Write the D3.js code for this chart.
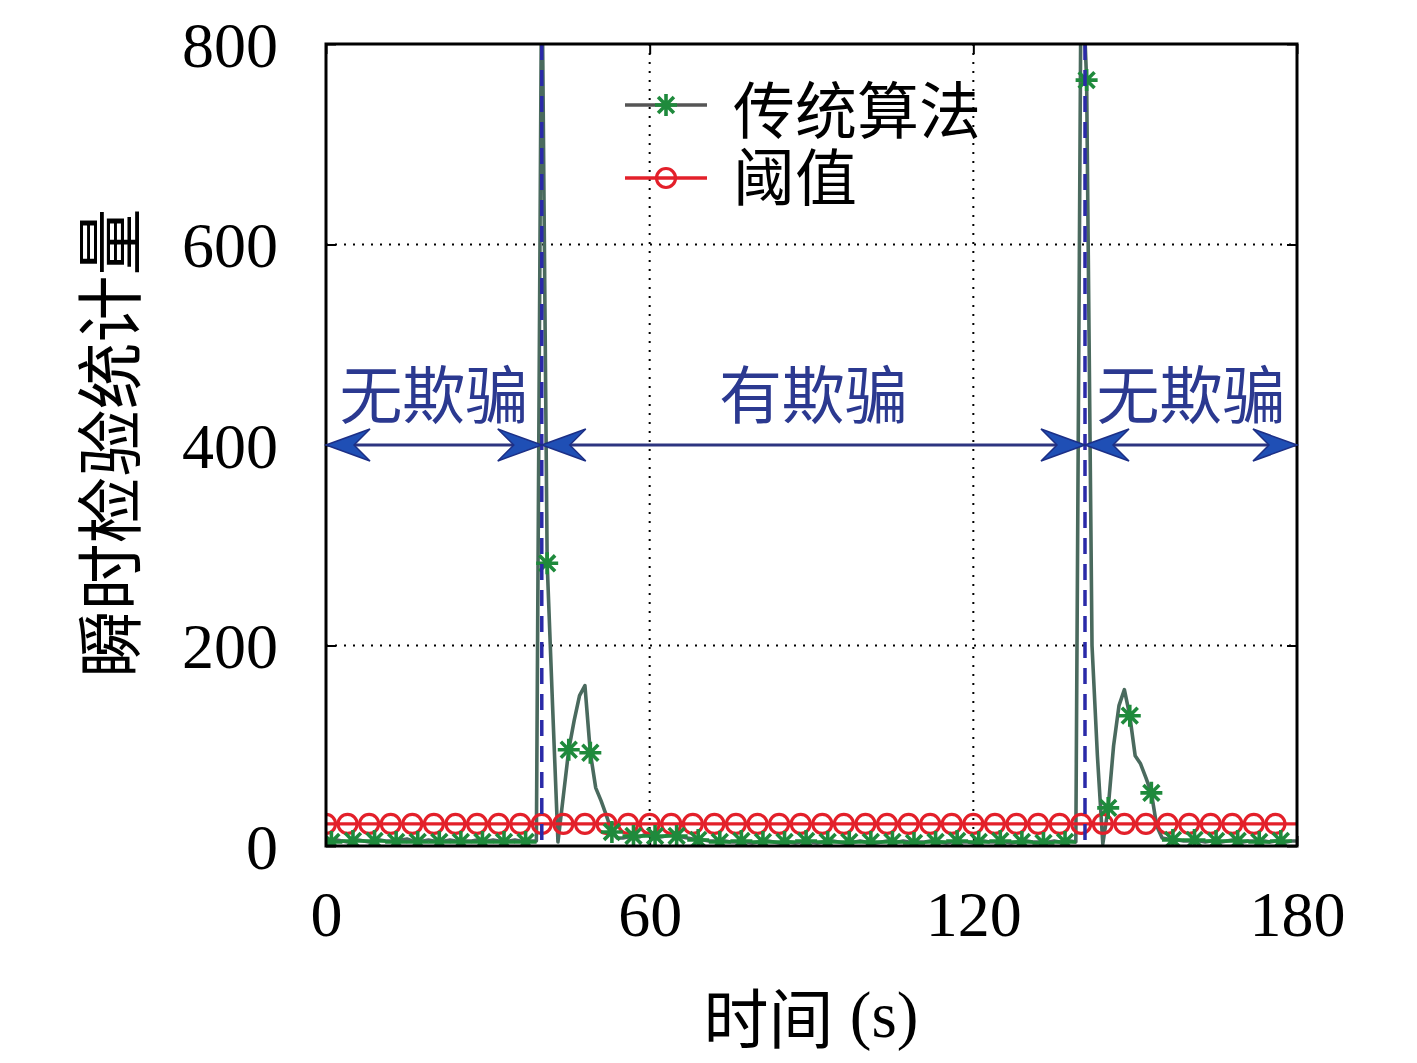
<!DOCTYPE html>
<html><head><meta charset="utf-8">
<script src="https://cdn.jsdelivr.net/npm/d3@7"></script>
<style>
body{margin:0;background:#fff;}
svg{display:block;}
</style>
</head><body>
<svg id="chart" width="1417" height="1063"></svg>
<script>
// ---------------- data ----------------
const xTicks = [0, 60, 120, 180];
const yTicks = [0, 200, 400, 600, 800];
const seriesNames = ["传统算法", "阈值"];
// traditional algorithm statistic, one value per second (t = 0..180)
const tradValues = [
  5,4,6,5,4,5,6,5,4,5, 6,5,5,4,6,7,5,4,5,6, 5,4,5,6,5,4,5,5,6,4, 5,6,5,4,5,6,5,4,5,5,
  900,282,140,4,50,96,125,150,160,93,58,45,30,14,8,
  8,9,10,9,11,12,10,9,10,11,
  10,9,8,7,6,6,5,5,4,5,
  4,4,5,4,3,4,4,5,4,3,
  4,4,3,4,5,4,3,4,4,5,
  4,3,4,4,5,4,4,3,4,5,
  4,4,5,4,3,4,4,5,4,4,
  3,4,5,4,4,3,4,5,4,4,
  5,4,3,4,4,5,4,4,3,4,
  5,4,4,5,4,
  900,764,200,90,2,38,100,140,156,130,90,82,68,53,20,
  8,7,6,6,5,5,6,5,4,5,
  5,4,5,6,5,4,5,5,4,5,
  4,5,5,4,5,5
];
const tradTimes = tradValues.map((v, i) => i);
const tradMarkerTimes = [1,5,9,13,17,21,25,29,33,37,41,45,49,53,57,61,65,69,73,77,81,85,89,93,97,101,105,109,113,117,121,125,129,133,137,141,145,149,153,157,161,165,169,173,177];
// threshold
const thresholdTimes = [0,4,8,12,16,20,24,28,32,36,40,44,48,52,56,60,64,68,72,76,80,84,88,92,96,100,104,108,112,116,120,124,128,132,136,140,144,148,152,156,160,164,168,172,176];
const thresholdValues = [22,22,22,22,22,22,22,22,22,22,22,22,22,22,22,22,22,22,22,22,22,22,22,22,22,22,22,22,22,22,22,22,22,22,22,22,22,22,22,22,22,22,22,22,22];
// spoofing boundaries and region labels
const boundaryTimes = [40, 140.7];
const regionStarts = [0, 40, 140.7];
const regionEnds = [40, 140.7, 180];
const regionLabels = ["无欺骗", "有欺骗", "无欺骗"];
const arrowLevel = 400;

// ---------------- layout ----------------
const svg = d3.select("#chart");
const L = 326, R = 1297, T = 44, B = 846;
const x = d3.scaleLinear().domain([0, 180]).range([L, R]);
const y = d3.scaleLinear().domain([0, 800]).range([B, T]);
const serif = "'Liberation Serif','DejaVu Serif',serif";
const cjk = "'Noto Sans CJK SC','Noto Sans CJK JP',sans-serif";

svg.append("rect").attr("width",1417).attr("height",1063).attr("fill","#fff");

svg.append("defs").append("clipPath").attr("id","clip")
  .append("rect").attr("x",L).attr("y",T).attr("width",R-L).attr("height",B-T);

// grid
const grid = svg.append("g").attr("stroke","#000").attr("stroke-width",2).attr("stroke-dasharray","2,7");
xTicks.filter(t => t>0 && t<180).forEach(t => grid.append("line").attr("x1",x(t)).attr("x2",x(t)).attr("y1",T).attr("y2",B));
yTicks.filter(t => t>0 && t<800).forEach(t => grid.append("line").attr("x1",L).attr("x2",R).attr("y1",y(t)).attr("y2",y(t)));

// axes with inward ticks
const axB = svg.append("g").attr("transform",`translate(0,${B})`).call(d3.axisBottom(x).tickValues(xTicks).tickSize(-10).tickPadding(42));
const axT = svg.append("g").attr("transform",`translate(0,${T})`).call(d3.axisTop(x).tickValues(xTicks).tickSize(-10).tickFormat(""));
const axL = svg.append("g").attr("transform",`translate(${L},0)`).call(d3.axisLeft(y).tickValues(yTicks).tickSize(-10).tickPadding(48));
const axR = svg.append("g").attr("transform",`translate(${R},0)`).call(d3.axisRight(y).tickValues(yTicks).tickSize(-10).tickFormat(""));
[axB,axT,axL,axR].forEach(a => {
  a.select(".domain").remove();
  a.selectAll(".tick line").attr("stroke","#000").attr("stroke-width",2);
  a.selectAll("text").attr("font-family",serif).attr("font-size",64).attr("fill","#000");
});
axB.selectAll("text").attr("dy","0.75em");
axL.selectAll("text").attr("dy","0.35em");

// threshold series
const thrData = thresholdTimes.map((t,i)=>({t, v: thresholdValues[i]}));
const line = d3.line().x(d=>x(d.t)).y(d=>y(d.v));
const plot = svg.append("g").attr("clip-path","url(#clip)");

// traditional series line
const tradData = tradTimes.map((t,i)=>({t, v: tradValues[i]}));
plot.append("path").datum(tradData).attr("d",line).attr("fill","none")
  .attr("stroke","#4a6a5e").attr("stroke-width",3.6).attr("stroke-linejoin","round");

// threshold line
plot.append("path").datum(thrData.concat([{t:180, v:thresholdValues[thresholdValues.length-1]}]))
  .attr("d",line).attr("fill","none").attr("stroke","#e3202a").attr("stroke-width",3.2);

// boundary dashed lines
boundaryTimes.forEach(t => {
  svg.append("line").attr("x1",x(t)).attr("x2",x(t)).attr("y1",T).attr("y2",B)
    .attr("stroke","#2a2aa8").attr("stroke-width",3.5).attr("stroke-dasharray","16,10");
});

// threshold markers
plot.selectAll("circle.thr").data(thrData).join("circle")
  .attr("cx",d=>x(d.t)).attr("cy",d=>y(d.v)).attr("r",9.5)
  .attr("fill","none").attr("stroke","#e3202a").attr("stroke-width",3.2);

// asterisk markers
function asterisk(g, cx, cy, s, color){
  const a = s, b = s*0.72;
  const p = `M${cx-a},${cy}L${cx+a},${cy}M${cx},${cy-a}L${cx},${cy+a}M${cx-b},${cy-b}L${cx+b},${cy+b}M${cx-b},${cy+b}L${cx+b},${cy-b}`;
  g.append("path").attr("d",p).attr("stroke",color).attr("stroke-width",3.6).attr("fill","none");
}
const mk = plot.append("g");
tradMarkerTimes.forEach(t => asterisk(mk, x(t), y(tradValues[tradTimes.indexOf(t)]), 11, "#1f8a3c"));

// frame
svg.append("rect").attr("x",L).attr("y",T).attr("width",R-L).attr("height",B-T)
  .attr("fill","none").attr("stroke","#000").attr("stroke-width",3);

// region arrows
function head(xTip, yy, dir){
  const Lh = 44, W = 16, n = 28;
  const p = `M${xTip},${yy}L${xTip - dir*Lh},${yy-W}L${xTip - dir*n},${yy}L${xTip - dir*Lh},${yy+W}Z`;
  svg.append("path").attr("d",p).attr("fill","#1f4fb5").attr("stroke","#1c2f86").attr("stroke-width",1.5);
}
regionStarts.forEach((s,i) => {
  const x0 = x(s), x1 = x(regionEnds[i]), yy = y(arrowLevel);
  svg.append("line").attr("x1",x0+20).attr("x2",x1-20).attr("y1",yy).attr("y2",yy)
    .attr("stroke","#2d3580").attr("stroke-width",3);
  head(x0, yy, -1);
  head(x1, yy, 1);
  svg.append("text").attr("x",(x0+x1)/2).attr("y",yy-55).attr("text-anchor","middle")
    .attr("dominant-baseline","central").attr("font-family",cjk).attr("font-size",63)
    .attr("fill","#2b3990").text(regionLabels[i]);
});

// legend
const lg = svg.append("g");
const legY = [105, 178];
lg.append("line").attr("x1",625).attr("x2",707).attr("y1",legY[0]).attr("y2",legY[0]).attr("stroke","#555").attr("stroke-width",3.5);
asterisk(lg, 666, legY[0], 11, "#1f8a3c");
lg.append("line").attr("x1",625).attr("x2",707).attr("y1",legY[1]).attr("y2",legY[1]).attr("stroke","#e3202a").attr("stroke-width",3.5);
lg.append("circle").attr("cx",666).attr("cy",legY[1]).attr("r",9.5).attr("fill","none").attr("stroke","#e3202a").attr("stroke-width",3.2);
const legText = lg.append("text").attr("font-family",cjk).attr("font-size",62).attr("fill","#000");
seriesNames.forEach((n,i) => {
  legText.append("tspan").attr("x",733).attr("y",[134, 201][i]).text(n);
});

// axis titles
const xt = svg.append("text").attr("x",811).attr("y",1015).attr("text-anchor","middle")
  .attr("dominant-baseline","central").attr("font-size",65).attr("fill","#000");
xt.append("tspan").attr("font-family",cjk).text("时间");
xt.append("tspan").attr("font-family",serif).text(" (s)");
svg.append("text").attr("transform","translate(105,443) rotate(-90)").attr("text-anchor","middle")
  .attr("dominant-baseline","central").attr("font-family",cjk).attr("font-size",67).attr("fill","#000")
  .text("瞬时检验统计量");
</script>
</body></html>
